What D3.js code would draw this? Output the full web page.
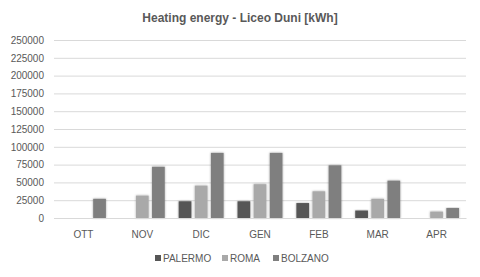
<!DOCTYPE html>
<html>
<head>
<meta charset="utf-8">
<script src="https://cdn.jsdelivr.net/npm/d3@7"></script>
<style>
  body { margin: 0; background: #fff; }
  svg { font-family: "Liberation Sans", Arial, sans-serif; }
</style>
</head>
<body>
<svg id="svg" width="480" height="277"></svg>
<script>
const months = ['OTT', 'NOV', 'DIC', 'GEN', 'FEB', 'MAR', 'APR'];
const cities = ['PALERMO', 'ROMA', 'BOLZANO'];
const palermo = [0, 0, 23500, 23500, 21000, 10500, 0];
const roma = [0, 31500, 45500, 47500, 37500, 27000, 9000];
const bolzano = [27000, 72000, 91500, 91500, 74000, 52500, 14000];
const yTicks = [0, 25000, 50000, 75000, 100000, 125000, 150000, 175000, 200000, 225000, 250000];

const colors = ['#565656', '#a9a9a9', '#7f7f7f'];
const series = [palermo, roma, bolzano];

let svg = d3.select('#svg');
let margin = { left: 54, right: 14, top: 40, bottom: 59 };
let width = 480, height = 277;

let x = d3.scaleBand()
  .domain(months)
  .range([margin.left, width - margin.right])
  .paddingInner(0.236)
  .paddingOuter(0.118);

let xSub = d3.scaleBand()
  .domain(cities)
  .range([0, x.bandwidth()])
  .paddingInner(0.21);

let y = d3.scaleLinear()
  .domain([0, 250000])
  .range([height - margin.bottom, margin.top]);

// shadow
let defs = svg.append('defs');
let f = defs.append('filter').attr('id', 'shadow')
  .attr('x', '-30%').attr('y', '-10%').attr('width', '160%').attr('height', '130%');
f.append('feDropShadow')
  .attr('dx', 0).attr('dy', 0).attr('stdDeviation', 1.2)
  .attr('flood-color', '#000').attr('flood-opacity', 0.35);

svg.append('text')
  .attr('x', 240).attr('y', 22)
  .attr('text-anchor', 'middle')
  .attr('font-size', '12px').attr('font-weight', 'bold')
  .attr('fill', '#595959')
  .text('Heating energy - Liceo Duni [kWh]');

// gridlines
svg.append('g')
  .attr('transform', 'translate(' + margin.left + ',0)')
  .call(d3.axisLeft(y).tickValues(yTicks)
    .tickSize(-(width - margin.left - margin.right))
    .tickFormat(d => d)
    .tickPadding(10))
  .call(g => g.select('.domain').remove())
  .call(g => g.selectAll('line').attr('stroke', '#d9d9d9').attr('stroke-width', 1))
  .call(g => g.selectAll('text').attr('fill', '#595959').attr('font-size', '10px'));

// bars
let groups = svg.append('g').selectAll('g')
  .data(months)
  .enter()
  .append('g')
  .attr('transform', d => 'translate(' + x(d) + ',0)');

groups.selectAll('rect')
  .data((m, i) => series.map((s, k) => ({ city: cities[k], value: s[i], k: k })))
  .enter()
  .filter(d => d.value > 0)
  .append('rect')
  .attr('x', d => xSub(d.city))
  .attr('y', d => y(d.value))
  .attr('width', xSub.bandwidth())
  .attr('height', d => y(0) - y(d.value))
  .attr('fill', d => colors[d.k])
  .attr('filter', 'url(#shadow)');

// x axis line and labels
svg.append('g')
  .attr('transform', 'translate(0,' + y(0) + ')')
  .call(d3.axisBottom(x).tickSize(0).tickPadding(13))
  .call(g => g.select('.domain').attr('stroke', '#d9d9d9'))
  .call(g => g.selectAll('text').attr('fill', '#595959').attr('font-size', '10px'));

// legend
let legendX = [155, 222, 273];
let legend = svg.append('g').selectAll('g')
  .data(cities)
  .enter()
  .append('g')
  .attr('transform', (d, i) => 'translate(' + legendX[i] + ',258)');

legend.append('rect')
  .attr('x', 0).attr('y', -3)
  .attr('width', 6).attr('height', 6)
  .attr('fill', (d, i) => colors[i]);

legend.append('text')
  .attr('x', 8).attr('y', 3.5)
  .attr('font-size', '10px')
  .attr('fill', '#595959')
  .text(d => d);
</script>
</body>
</html>
